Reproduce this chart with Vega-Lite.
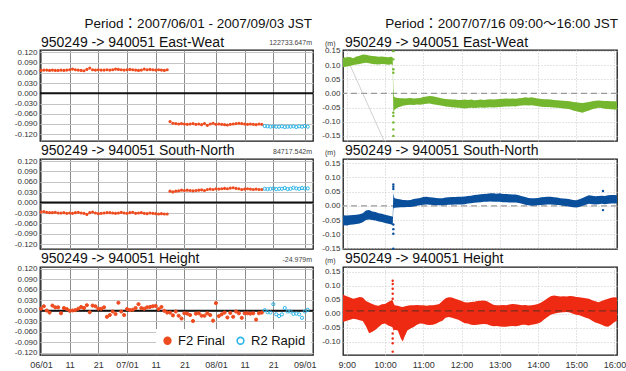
{
"$schema": "https://vega.github.io/schema/vega-lite/v6.json",
"background": "white",
"padding": {"left": 13, "top": 16, "right": 4, "bottom": 0},
"config": {
 "font": "Liberation Sans",
 "view": {"stroke": "#1a1a1a", "strokeWidth": 1.3},
 "axis": {"domain": false, "ticks": false, "labelFont": "Liberation Sans", "labelColor": "#333333", "labelPadding": 3, "gridWidth": 1}
},
"datasets": {
 "daily": [
{"d":"2007-06-01","ew":0.067,"sn":-0.027,"h":0.006,"s":"F2 Final"},
{"d":"2007-06-02","ew":0.068,"sn":-0.026,"h":0.013,"s":"F2 Final"},
{"d":"2007-06-03","ew":0.068,"sn":-0.028,"h":0.001,"s":"F2 Final"},
{"d":"2007-06-04","ew":0.067,"sn":-0.029,"h":-0.005,"s":"F2 Final"},
{"d":"2007-06-05","ew":0.068,"sn":-0.029,"h":0.015,"s":"F2 Final"},
{"d":"2007-06-06","ew":0.067,"sn":-0.028,"h":0.010,"s":"F2 Final"},
{"d":"2007-06-07","ew":0.067,"sn":-0.030,"h":0.010,"s":"F2 Final"},
{"d":"2007-06-08","ew":0.068,"sn":-0.030,"h":-0.007,"s":"F2 Final"},
{"d":"2007-06-09","ew":0.067,"sn":-0.029,"h":0.008,"s":"F2 Final"},
{"d":"2007-06-10","ew":0.068,"sn":-0.031,"h":0.005,"s":"F2 Final"},
{"d":"2007-06-11","ew":0.069,"sn":-0.030,"h":0.000,"s":"F2 Final"},
{"d":"2007-06-12","ew":0.071,"sn":-0.031,"h":0.001,"s":"F2 Final"},
{"d":"2007-06-13","ew":0.069,"sn":-0.029,"h":0.002,"s":"F2 Final"},
{"d":"2007-06-14","ew":0.068,"sn":-0.028,"h":0.006,"s":"F2 Final"},
{"d":"2007-06-15","ew":0.067,"sn":-0.030,"h":0.011,"s":"F2 Final"},
{"d":"2007-06-16","ew":0.066,"sn":-0.031,"h":0.008,"s":"F2 Final"},
{"d":"2007-06-17","ew":0.070,"sn":-0.034,"h":0.016,"s":"F2 Final"},
{"d":"2007-06-18","ew":0.074,"sn":-0.029,"h":-0.004,"s":"F2 Final"},
{"d":"2007-06-19","ew":0.069,"sn":-0.027,"h":0.015,"s":"F2 Final"},
{"d":"2007-06-20","ew":0.068,"sn":-0.030,"h":0.013,"s":"F2 Final"},
{"d":"2007-06-21","ew":0.069,"sn":-0.032,"h":0.006,"s":"F2 Final"},
{"d":"2007-06-22","ew":0.068,"sn":-0.031,"h":0.006,"s":"F2 Final"},
{"d":"2007-06-23","ew":0.068,"sn":-0.030,"h":0.010,"s":"F2 Final"},
{"d":"2007-06-24","ew":0.069,"sn":-0.029,"h":-0.017,"s":"F2 Final"},
{"d":"2007-06-25","ew":0.068,"sn":-0.029,"h":-0.012,"s":"F2 Final"},
{"d":"2007-06-26","ew":0.069,"sn":-0.030,"h":-0.002,"s":"F2 Final"},
{"d":"2007-06-27","ew":0.071,"sn":-0.031,"h":-0.009,"s":"F2 Final"},
{"d":"2007-06-28","ew":0.070,"sn":-0.030,"h":0.023,"s":"F2 Final"},
{"d":"2007-06-29","ew":0.069,"sn":-0.028,"h":-0.002,"s":"F2 Final"},
{"d":"2007-06-30","ew":0.068,"sn":-0.030,"h":-0.012,"s":"F2 Final"},
{"d":"2007-07-01","ew":0.069,"sn":-0.031,"h":0.005,"s":"F2 Final"},
{"d":"2007-07-02","ew":0.070,"sn":-0.029,"h":0.002,"s":"F2 Final"},
{"d":"2007-07-03","ew":0.069,"sn":-0.028,"h":0.003,"s":"F2 Final"},
{"d":"2007-07-04","ew":0.068,"sn":-0.031,"h":0.008,"s":"F2 Final"},
{"d":"2007-07-05","ew":0.067,"sn":-0.030,"h":0.019,"s":"F2 Final"},
{"d":"2007-07-06","ew":0.068,"sn":-0.029,"h":0.008,"s":"F2 Final"},
{"d":"2007-07-07","ew":0.071,"sn":-0.031,"h":0.006,"s":"F2 Final"},
{"d":"2007-07-08","ew":0.069,"sn":-0.032,"h":0.010,"s":"F2 Final"},
{"d":"2007-07-09","ew":0.070,"sn":-0.030,"h":0.011,"s":"F2 Final"},
{"d":"2007-07-10","ew":0.069,"sn":-0.031,"h":0.013,"s":"F2 Final"},
{"d":"2007-07-11","ew":0.068,"sn":-0.032,"h":0.014,"s":"F2 Final"},
{"d":"2007-07-12","ew":0.069,"sn":-0.033,"h":0.005,"s":"F2 Final"},
{"d":"2007-07-13","ew":0.068,"sn":-0.032,"h":0.011,"s":"F2 Final"},
{"d":"2007-07-14","ew":0.067,"sn":-0.033,"h":0.000,"s":"F2 Final"},
{"d":"2007-07-15","ew":0.069,"sn":-0.033,"h":-0.005,"s":"F2 Final"},
{"d":"2007-07-16","ew":-0.083,"sn":0.033,"h":-0.005,"s":"F2 Final"},
{"d":"2007-07-17","ew":-0.088,"sn":0.031,"h":-0.013,"s":"F2 Final"},
{"d":"2007-07-18","ew":-0.089,"sn":0.033,"h":-0.002,"s":"F2 Final"},
{"d":"2007-07-19","ew":-0.090,"sn":0.034,"h":-0.014,"s":"F2 Final"},
{"d":"2007-07-20","ew":-0.089,"sn":0.036,"h":-0.022,"s":"F2 Final"},
{"d":"2007-07-21","ew":-0.090,"sn":0.035,"h":-0.007,"s":"F2 Final"},
{"d":"2007-07-22","ew":-0.091,"sn":0.036,"h":-0.008,"s":"F2 Final"},
{"d":"2007-07-23","ew":-0.090,"sn":0.035,"h":-0.012,"s":"F2 Final"},
{"d":"2007-07-24","ew":-0.089,"sn":0.034,"h":-0.029,"s":"F2 Final"},
{"d":"2007-07-25","ew":-0.091,"sn":0.035,"h":-0.008,"s":"F2 Final"},
{"d":"2007-07-26","ew":-0.090,"sn":0.036,"h":-0.007,"s":"F2 Final"},
{"d":"2007-07-27","ew":-0.092,"sn":0.037,"h":-0.014,"s":"F2 Final"},
{"d":"2007-07-28","ew":-0.089,"sn":0.035,"h":-0.014,"s":"F2 Final"},
{"d":"2007-07-29","ew":-0.094,"sn":0.038,"h":-0.007,"s":"F2 Final"},
{"d":"2007-07-30","ew":-0.090,"sn":0.039,"h":-0.012,"s":"F2 Final"},
{"d":"2007-07-31","ew":-0.088,"sn":0.038,"h":-0.028,"s":"F2 Final"},
{"d":"2007-08-01","ew":-0.091,"sn":0.040,"h":0.022,"s":"F2 Final"},
{"d":"2007-08-02","ew":-0.090,"sn":0.039,"h":-0.015,"s":"F2 Final"},
{"d":"2007-08-03","ew":-0.091,"sn":0.040,"h":-0.010,"s":"F2 Final"},
{"d":"2007-08-04","ew":-0.092,"sn":0.041,"h":-0.005,"s":"F2 Final"},
{"d":"2007-08-05","ew":-0.093,"sn":0.040,"h":-0.019,"s":"F2 Final"},
{"d":"2007-08-06","ew":-0.091,"sn":0.042,"h":-0.006,"s":"F2 Final"},
{"d":"2007-08-07","ew":-0.090,"sn":0.043,"h":-0.017,"s":"F2 Final"},
{"d":"2007-08-08","ew":-0.089,"sn":0.041,"h":-0.002,"s":"F2 Final"},
{"d":"2007-08-09","ew":-0.088,"sn":0.040,"h":-0.007,"s":"F2 Final"},
{"d":"2007-08-10","ew":-0.089,"sn":0.038,"h":-0.020,"s":"F2 Final"},
{"d":"2007-08-11","ew":-0.090,"sn":0.039,"h":-0.007,"s":"F2 Final"},
{"d":"2007-08-12","ew":-0.091,"sn":0.040,"h":-0.007,"s":"F2 Final"},
{"d":"2007-08-13","ew":-0.090,"sn":0.039,"h":-0.008,"s":"F2 Final"},
{"d":"2007-08-14","ew":-0.091,"sn":0.038,"h":-0.007,"s":"F2 Final"},
{"d":"2007-08-15","ew":-0.092,"sn":0.039,"h":-0.025,"s":"F2 Final"},
{"d":"2007-08-16","ew":-0.090,"sn":0.038,"h":-0.007,"s":"F2 Final"},
{"d":"2007-08-17","ew":-0.091,"sn":0.038,"h":-0.005,"s":"F2 Final"},
{"d":"2007-08-18","ew":-0.096,"sn":0.040,"h":0.002,"s":"R2 Rapid"},
{"d":"2007-08-19","ew":-0.097,"sn":0.039,"h":-0.004,"s":"R2 Rapid"},
{"d":"2007-08-20","ew":-0.098,"sn":0.040,"h":-0.005,"s":"R2 Rapid"},
{"d":"2007-08-21","ew":-0.097,"sn":0.041,"h":0.019,"s":"R2 Rapid"},
{"d":"2007-08-22","ew":-0.098,"sn":0.039,"h":-0.010,"s":"R2 Rapid"},
{"d":"2007-08-23","ew":-0.098,"sn":0.040,"h":-0.015,"s":"R2 Rapid"},
{"d":"2007-08-24","ew":-0.097,"sn":0.040,"h":-0.010,"s":"R2 Rapid"},
{"d":"2007-08-25","ew":-0.099,"sn":0.042,"h":0.008,"s":"R2 Rapid"},
{"d":"2007-08-26","ew":-0.098,"sn":0.039,"h":-0.002,"s":"R2 Rapid"},
{"d":"2007-08-27","ew":-0.098,"sn":0.040,"h":-0.002,"s":"R2 Rapid"},
{"d":"2007-08-28","ew":-0.097,"sn":0.043,"h":-0.009,"s":"R2 Rapid"},
{"d":"2007-08-29","ew":-0.099,"sn":0.041,"h":-0.008,"s":"R2 Rapid"},
{"d":"2007-08-30","ew":-0.097,"sn":0.040,"h":-0.010,"s":"R2 Rapid"},
{"d":"2007-08-31","ew":-0.098,"sn":0.042,"h":-0.020,"s":"R2 Rapid"},
{"d":"2007-09-01","ew":-0.096,"sn":0.041,"h":-0.002,"s":"R2 Rapid"},
{"d":"2007-09-02","ew":-0.098,"sn":0.041,"h":0.003,"s":"R2 Rapid"}
 ],
 "hr": [
{"t":"2007-07-16T08:54Z","ewlo":0.092,"ewhi":0.126,"snlo":-0.068,"snhi":-0.033,"hlo":-0.030,"hhi":0.068},
{"t":"2007-07-16T09:00Z","ewlo":0.095,"ewhi":0.127,"snlo":-0.069,"snhi":-0.034,"hlo":-0.025,"hhi":0.062},
{"t":"2007-07-16T09:05Z","ewlo":0.097,"ewhi":0.128,"snlo":-0.067,"snhi":-0.033,"hlo":-0.022,"hhi":0.058},
{"t":"2007-07-16T09:10Z","ewlo":0.100,"ewhi":0.124,"snlo":-0.066,"snhi":-0.032,"hlo":-0.018,"hhi":0.053},
{"t":"2007-07-16T09:15Z","ewlo":0.102,"ewhi":0.130,"snlo":-0.064,"snhi":-0.031,"hlo":-0.020,"hhi":0.056},
{"t":"2007-07-16T09:20Z","ewlo":0.104,"ewhi":0.133,"snlo":-0.062,"snhi":-0.030,"hlo":-0.024,"hhi":0.060},
{"t":"2007-07-16T09:25Z","ewlo":0.106,"ewhi":0.137,"snlo":-0.058,"snhi":-0.026,"hlo":-0.026,"hhi":0.058},
{"t":"2007-07-16T09:30Z","ewlo":0.108,"ewhi":0.136,"snlo":-0.050,"snhi":-0.016,"hlo":-0.045,"hhi":0.045},
{"t":"2007-07-16T09:35Z","ewlo":0.106,"ewhi":0.134,"snlo":-0.048,"snhi":-0.015,"hlo":-0.070,"hhi":0.040},
{"t":"2007-07-16T09:40Z","ewlo":0.104,"ewhi":0.132,"snlo":-0.050,"snhi":-0.020,"hlo":-0.065,"hhi":0.035},
{"t":"2007-07-16T09:45Z","ewlo":0.103,"ewhi":0.131,"snlo":-0.052,"snhi":-0.022,"hlo":-0.058,"hhi":0.030},
{"t":"2007-07-16T09:50Z","ewlo":0.102,"ewhi":0.129,"snlo":-0.055,"snhi":-0.026,"hlo":-0.048,"hhi":0.028},
{"t":"2007-07-16T09:55Z","ewlo":0.104,"ewhi":0.130,"snlo":-0.057,"snhi":-0.028,"hlo":-0.038,"hhi":0.034},
{"t":"2007-07-16T10:00Z","ewlo":0.103,"ewhi":0.128,"snlo":-0.060,"snhi":-0.031,"hlo":-0.035,"hhi":0.035},
{"t":"2007-07-16T10:05Z","ewlo":0.101,"ewhi":0.127,"snlo":-0.063,"snhi":-0.034,"hlo":-0.042,"hhi":0.042},
{"t":"2007-07-16T10:10Z","ewlo":0.103,"ewhi":0.129,"snlo":-0.066,"snhi":-0.037,"hlo":-0.047,"hhi":0.048},
{"t":"2007-07-16T10:12Z","ewlo":0.100,"ewhi":0.127,"snlo":-0.068,"snhi":-0.038,"hlo":-0.050,"hhi":0.047},
{"t":"2007-07-16T10:13Z","ewlo":-0.065,"ewhi":0.020,"snlo":-0.010,"snhi":0.045,"hlo":-0.060,"hhi":0.040},
{"t":"2007-07-16T10:14Z","ewlo":-0.062,"ewhi":-0.010,"snlo":-0.008,"snhi":0.032,"hlo":-0.060,"hhi":0.035},
{"t":"2007-07-16T10:15Z","ewlo":-0.058,"ewhi":-0.014,"snlo":-0.007,"snhi":0.027,"hlo":-0.058,"hhi":0.030},
{"t":"2007-07-16T10:20Z","ewlo":-0.050,"ewhi":-0.016,"snlo":-0.006,"snhi":0.024,"hlo":-0.060,"hhi":0.028},
{"t":"2007-07-16T10:25Z","ewlo":-0.046,"ewhi":-0.017,"snlo":-0.005,"snhi":0.022,"hlo":-0.090,"hhi":0.025},
{"t":"2007-07-16T10:28Z","ewlo":-0.044,"ewhi":-0.017,"snlo":-0.005,"snhi":0.021,"hlo":-0.100,"hhi":0.024},
{"t":"2007-07-16T10:30Z","ewlo":-0.043,"ewhi":-0.018,"snlo":-0.005,"snhi":0.021,"hlo":-0.085,"hhi":0.026},
{"t":"2007-07-16T10:35Z","ewlo":-0.041,"ewhi":-0.017,"snlo":-0.004,"snhi":0.020,"hlo":-0.060,"hhi":0.028},
{"t":"2007-07-16T10:40Z","ewlo":-0.040,"ewhi":-0.016,"snlo":-0.004,"snhi":0.021,"hlo":-0.053,"hhi":0.030},
{"t":"2007-07-16T10:45Z","ewlo":-0.041,"ewhi":-0.018,"snlo":-0.002,"snhi":0.024,"hlo":-0.048,"hhi":0.030},
{"t":"2007-07-16T10:50Z","ewlo":-0.039,"ewhi":-0.017,"snlo":0.000,"snhi":0.026,"hlo":-0.040,"hhi":0.031},
{"t":"2007-07-16T10:55Z","ewlo":-0.040,"ewhi":-0.016,"snlo":0.002,"snhi":0.028,"hlo":-0.035,"hhi":0.030},
{"t":"2007-07-16T11:00Z","ewlo":-0.038,"ewhi":-0.013,"snlo":0.004,"snhi":0.031,"hlo":-0.036,"hhi":0.030},
{"t":"2007-07-16T11:05Z","ewlo":-0.037,"ewhi":-0.011,"snlo":0.005,"snhi":0.032,"hlo":-0.040,"hhi":0.028},
{"t":"2007-07-16T11:10Z","ewlo":-0.036,"ewhi":-0.009,"snlo":0.004,"snhi":0.030,"hlo":-0.041,"hhi":0.030},
{"t":"2007-07-16T11:15Z","ewlo":-0.038,"ewhi":-0.010,"snlo":0.003,"snhi":0.029,"hlo":-0.040,"hhi":0.030},
{"t":"2007-07-16T11:20Z","ewlo":-0.040,"ewhi":-0.013,"snlo":0.002,"snhi":0.028,"hlo":-0.036,"hhi":0.032},
{"t":"2007-07-16T11:25Z","ewlo":-0.042,"ewhi":-0.015,"snlo":0.002,"snhi":0.027,"hlo":-0.030,"hhi":0.035},
{"t":"2007-07-16T11:30Z","ewlo":-0.044,"ewhi":-0.018,"snlo":0.002,"snhi":0.027,"hlo":-0.025,"hhi":0.045},
{"t":"2007-07-16T11:35Z","ewlo":-0.046,"ewhi":-0.020,"snlo":0.003,"snhi":0.029,"hlo":-0.015,"hhi":0.055},
{"t":"2007-07-16T11:40Z","ewlo":-0.047,"ewhi":-0.021,"snlo":0.004,"snhi":0.030,"hlo":-0.012,"hhi":0.059},
{"t":"2007-07-16T11:45Z","ewlo":-0.049,"ewhi":-0.022,"snlo":0.004,"snhi":0.031,"hlo":-0.015,"hhi":0.058},
{"t":"2007-07-16T11:50Z","ewlo":-0.050,"ewhi":-0.022,"snlo":0.005,"snhi":0.031,"hlo":-0.018,"hhi":0.053},
{"t":"2007-07-16T11:55Z","ewlo":-0.051,"ewhi":-0.023,"snlo":0.005,"snhi":0.032,"hlo":-0.022,"hhi":0.050},
{"t":"2007-07-16T12:00Z","ewlo":-0.052,"ewhi":-0.023,"snlo":0.005,"snhi":0.032,"hlo":-0.028,"hhi":0.045},
{"t":"2007-07-16T12:05Z","ewlo":-0.053,"ewhi":-0.022,"snlo":0.006,"snhi":0.033,"hlo":-0.034,"hhi":0.041},
{"t":"2007-07-16T12:10Z","ewlo":-0.052,"ewhi":-0.023,"snlo":0.008,"snhi":0.035,"hlo":-0.035,"hhi":0.040},
{"t":"2007-07-16T12:15Z","ewlo":-0.051,"ewhi":-0.022,"snlo":0.009,"snhi":0.036,"hlo":-0.040,"hhi":0.042},
{"t":"2007-07-16T12:20Z","ewlo":-0.052,"ewhi":-0.024,"snlo":0.011,"snhi":0.038,"hlo":-0.041,"hhi":0.043},
{"t":"2007-07-16T12:25Z","ewlo":-0.051,"ewhi":-0.023,"snlo":0.012,"snhi":0.039,"hlo":-0.040,"hhi":0.045},
{"t":"2007-07-16T12:30Z","ewlo":-0.050,"ewhi":-0.022,"snlo":0.013,"snhi":0.041,"hlo":-0.038,"hhi":0.046},
{"t":"2007-07-16T12:35Z","ewlo":-0.051,"ewhi":-0.023,"snlo":0.014,"snhi":0.042,"hlo":-0.037,"hhi":0.047},
{"t":"2007-07-16T12:40Z","ewlo":-0.050,"ewhi":-0.022,"snlo":0.014,"snhi":0.043,"hlo":-0.038,"hhi":0.044},
{"t":"2007-07-16T12:45Z","ewlo":-0.049,"ewhi":-0.021,"snlo":0.015,"snhi":0.044,"hlo":-0.042,"hhi":0.038},
{"t":"2007-07-16T12:50Z","ewlo":-0.050,"ewhi":-0.022,"snlo":0.014,"snhi":0.044,"hlo":-0.045,"hhi":0.032},
{"t":"2007-07-16T12:55Z","ewlo":-0.049,"ewhi":-0.021,"snlo":0.014,"snhi":0.043,"hlo":-0.044,"hhi":0.030},
{"t":"2007-07-16T13:00Z","ewlo":-0.048,"ewhi":-0.020,"snlo":0.014,"snhi":0.044,"hlo":-0.046,"hhi":0.030},
{"t":"2007-07-16T13:05Z","ewlo":-0.047,"ewhi":-0.019,"snlo":0.013,"snhi":0.042,"hlo":-0.047,"hhi":0.031},
{"t":"2007-07-16T13:10Z","ewlo":-0.046,"ewhi":-0.018,"snlo":0.013,"snhi":0.042,"hlo":-0.047,"hhi":0.030},
{"t":"2007-07-16T13:15Z","ewlo":-0.046,"ewhi":-0.019,"snlo":0.012,"snhi":0.041,"hlo":-0.045,"hhi":0.033},
{"t":"2007-07-16T13:20Z","ewlo":-0.045,"ewhi":-0.018,"snlo":0.012,"snhi":0.040,"hlo":-0.044,"hhi":0.035},
{"t":"2007-07-16T13:25Z","ewlo":-0.046,"ewhi":-0.019,"snlo":0.012,"snhi":0.040,"hlo":-0.045,"hhi":0.034},
{"t":"2007-07-16T13:30Z","ewlo":-0.044,"ewhi":-0.017,"snlo":0.010,"snhi":0.037,"hlo":-0.043,"hhi":0.032},
{"t":"2007-07-16T13:35Z","ewlo":-0.043,"ewhi":-0.016,"snlo":0.007,"snhi":0.034,"hlo":-0.040,"hhi":0.030},
{"t":"2007-07-16T13:40Z","ewlo":-0.042,"ewhi":-0.014,"snlo":0.004,"snhi":0.031,"hlo":-0.040,"hhi":0.031},
{"t":"2007-07-16T13:45Z","ewlo":-0.043,"ewhi":-0.015,"snlo":0.002,"snhi":0.028,"hlo":-0.042,"hhi":0.029},
{"t":"2007-07-16T13:50Z","ewlo":-0.042,"ewhi":-0.014,"snlo":0.000,"snhi":0.027,"hlo":-0.040,"hhi":0.030},
{"t":"2007-07-16T13:55Z","ewlo":-0.044,"ewhi":-0.016,"snlo":0.001,"snhi":0.027,"hlo":-0.038,"hhi":0.032},
{"t":"2007-07-16T14:00Z","ewlo":-0.045,"ewhi":-0.018,"snlo":0.002,"snhi":0.028,"hlo":-0.035,"hhi":0.035},
{"t":"2007-07-16T14:05Z","ewlo":-0.047,"ewhi":-0.020,"snlo":0.003,"snhi":0.030,"hlo":-0.030,"hhi":0.040},
{"t":"2007-07-16T14:10Z","ewlo":-0.048,"ewhi":-0.021,"snlo":0.004,"snhi":0.031,"hlo":-0.020,"hhi":0.047},
{"t":"2007-07-16T14:15Z","ewlo":-0.048,"ewhi":-0.021,"snlo":0.005,"snhi":0.032,"hlo":-0.012,"hhi":0.055},
{"t":"2007-07-16T14:20Z","ewlo":-0.049,"ewhi":-0.022,"snlo":0.005,"snhi":0.032,"hlo":-0.004,"hhi":0.062},
{"t":"2007-07-16T14:25Z","ewlo":-0.050,"ewhi":-0.023,"snlo":0.004,"snhi":0.030,"hlo":0.000,"hhi":0.065},
{"t":"2007-07-16T14:30Z","ewlo":-0.051,"ewhi":-0.024,"snlo":0.003,"snhi":0.029,"hlo":0.002,"hhi":0.063},
{"t":"2007-07-16T14:35Z","ewlo":-0.052,"ewhi":-0.025,"snlo":0.002,"snhi":0.027,"hlo":0.004,"hhi":0.061},
{"t":"2007-07-16T14:40Z","ewlo":-0.053,"ewhi":-0.026,"snlo":0.000,"snhi":0.026,"hlo":0.005,"hhi":0.062},
{"t":"2007-07-16T14:45Z","ewlo":-0.054,"ewhi":-0.027,"snlo":-0.001,"snhi":0.025,"hlo":0.006,"hhi":0.061},
{"t":"2007-07-16T14:50Z","ewlo":-0.056,"ewhi":-0.028,"snlo":-0.003,"snhi":0.023,"hlo":0.004,"hhi":0.063},
{"t":"2007-07-16T14:55Z","ewlo":-0.060,"ewhi":-0.030,"snlo":-0.005,"snhi":0.021,"hlo":0.000,"hhi":0.062},
{"t":"2007-07-16T15:00Z","ewlo":-0.063,"ewhi":-0.031,"snlo":-0.006,"snhi":0.020,"hlo":-0.004,"hhi":0.060},
{"t":"2007-07-16T15:05Z","ewlo":-0.066,"ewhi":-0.033,"snlo":-0.004,"snhi":0.023,"hlo":-0.006,"hhi":0.059},
{"t":"2007-07-16T15:10Z","ewlo":-0.068,"ewhi":-0.034,"snlo":0.000,"snhi":0.028,"hlo":-0.010,"hhi":0.057},
{"t":"2007-07-16T15:15Z","ewlo":-0.064,"ewhi":-0.032,"snlo":0.004,"snhi":0.033,"hlo":-0.015,"hhi":0.055},
{"t":"2007-07-16T15:20Z","ewlo":-0.060,"ewhi":-0.030,"snlo":0.007,"snhi":0.037,"hlo":-0.018,"hhi":0.053},
{"t":"2007-07-16T15:25Z","ewlo":-0.056,"ewhi":-0.028,"snlo":0.006,"snhi":0.036,"hlo":-0.025,"hhi":0.048},
{"t":"2007-07-16T15:30Z","ewlo":-0.053,"ewhi":-0.026,"snlo":0.005,"snhi":0.034,"hlo":-0.032,"hhi":0.044},
{"t":"2007-07-16T15:35Z","ewlo":-0.051,"ewhi":-0.025,"snlo":0.006,"snhi":0.035,"hlo":-0.035,"hhi":0.041},
{"t":"2007-07-16T15:40Z","ewlo":-0.052,"ewhi":-0.026,"snlo":0.007,"snhi":0.036,"hlo":-0.040,"hhi":0.045},
{"t":"2007-07-16T15:45Z","ewlo":-0.054,"ewhi":-0.027,"snlo":0.006,"snhi":0.035,"hlo":-0.045,"hhi":0.050},
{"t":"2007-07-16T15:50Z","ewlo":-0.055,"ewhi":-0.027,"snlo":0.007,"snhi":0.037,"hlo":-0.047,"hhi":0.053},
{"t":"2007-07-16T15:55Z","ewlo":-0.056,"ewhi":-0.028,"snlo":0.008,"snhi":0.038,"hlo":-0.040,"hhi":0.057},
{"t":"2007-07-16T16:00Z","ewlo":-0.057,"ewhi":-0.028,"snlo":0.008,"snhi":0.038,"hlo":-0.030,"hhi":0.059},
{"t":"2007-07-16T16:05Z","ewlo":-0.058,"ewhi":-0.029,"snlo":0.008,"snhi":0.037,"hlo":-0.024,"hhi":0.058}
 ],
 "sp": [
{"t":"2007-07-16T10:13Z","c":"ew","v":0.149},{"t":"2007-07-16T10:13Z","c":"ew","v":0.120},{"t":"2007-07-16T10:13Z","c":"ew","v":0.085},{"t":"2007-07-16T10:13Z","c":"ew","v":0.073},
{"t":"2007-07-16T10:13Z","c":"ew","v":-0.068},{"t":"2007-07-16T10:13Z","c":"ew","v":-0.080},{"t":"2007-07-16T10:13Z","c":"ew","v":-0.103},{"t":"2007-07-16T10:13Z","c":"ew","v":-0.127},{"t":"2007-07-16T10:13Z","c":"ew","v":-0.150},
{"t":"2007-07-16T10:13Z","c":"sn","v":0.075},{"t":"2007-07-16T10:13Z","c":"sn","v":0.067},{"t":"2007-07-16T10:13Z","c":"sn","v":0.059},{"t":"2007-07-16T10:13Z","c":"sn","v":-0.066},
{"t":"2007-07-16T10:13Z","c":"sn","v":-0.082},{"t":"2007-07-16T10:13Z","c":"sn","v":-0.098},{"t":"2007-07-16T10:13Z","c":"sn","v":-0.151},{"t":"2007-07-16T15:42Z","c":"sn","v":0.052},{"t":"2007-07-16T15:42Z","c":"sn","v":-0.015},
{"t":"2007-07-16T10:12Z","c":"h","v":0.118},{"t":"2007-07-16T10:12Z","c":"h","v":0.106},{"t":"2007-07-16T10:12Z","c":"h","v":0.089},{"t":"2007-07-16T10:12Z","c":"h","v":0.071},{"t":"2007-07-16T10:12Z","c":"h","v":0.053},
{"t":"2007-07-16T10:12Z","c":"h","v":-0.071},{"t":"2007-07-16T10:12Z","c":"h","v":-0.089},{"t":"2007-07-16T10:12Z","c":"h","v":-0.106},{"t":"2007-07-16T10:12Z","c":"h","v":-0.136}
 ],
 "streak": [{"t":"2007-07-16T09:05Z","v":0.100},{"t":"2007-07-16T10:00Z","v":-0.175}]
},
"spacing": 4,
"resolve": {"scale": {"fill": "independent", "stroke": "independent"}, "legend": {"fill": "independent", "stroke": "independent"}},
"hconcat": [
 {
  "spacing": 18,
  "bounds": "flush",
  "resolve": {"scale": {"fill": "independent", "stroke": "independent"}, "legend": {"fill": "independent", "stroke": "independent"}},
  "vconcat": [
   {
    "width": 273, "height": 91,
    "layer": [
     {"data": {"name": "daily"}, "transform": [{"filter": "datum.s == 'F2 Final'"}],
      "mark": {"type": "point", "shape": "circle", "size": 10, "filled": true, "strokeWidth": 1, "color": "#ee4b1f", "opacity": 1},
      "encoding": {
       "x": {"field": "d", "type": "temporal", "scale": {"type": "utc", "domain": [{"year":2007,"month":5,"date":31,"hours":16,"utc":true},{"year":2007,"month":9,"date":3,"hours":20,"utc":true}]},
             "axis": {"title": null, "labels": false, "grid": true, "gridColor": "#8c8c8c", "tickCount": 50, "values": [{"year":2007,"month":6,"date":1,"utc":true},{"year":2007,"month":6,"date":11,"utc":true},{"year":2007,"month":6,"date":21,"utc":true},{"year":2007,"month":7,"date":1,"utc":true},{"year":2007,"month":7,"date":11,"utc":true},{"year":2007,"month":7,"date":21,"utc":true},{"year":2007,"month":8,"date":1,"utc":true},{"year":2007,"month":8,"date":11,"utc":true},{"year":2007,"month":8,"date":21,"utc":true},{"year":2007,"month":9,"date":1,"utc":true}]}},
       "y": {"field": "ew", "type": "quantitative", "scale": {"domain": [-0.14, 0.127], "nice": false, "zero": false},
             "axis": {"title": null, "tickCount": 50, "values": [-0.12,-0.09,-0.06,-0.03,0,0.03,0.06,0.09,0.12], "labelExpr": "replace(format(datum.value, '.3f'), '\u2212', '-')", "grid": true, "gridColor": "#c4c4c4", "labelFontSize": 8, "labelOverlap": false}}
      }},
     {"data": {"name": "daily"}, "transform": [{"filter": "datum.s == 'R2 Rapid'"}],
      "mark": {"type": "point", "shape": "circle", "size": 10, "filled": false, "strokeWidth": 1, "color": "#2cb5e8", "opacity": 1},
      "encoding": {
       "x": {"field": "d", "type": "temporal", "scale": {"type": "utc", "domain": [{"year":2007,"month":5,"date":31,"hours":16,"utc":true},{"year":2007,"month":9,"date":3,"hours":20,"utc":true}]}},
       "y": {"field": "ew", "type": "quantitative", "scale": {"domain": [-0.14, 0.127], "nice": false, "zero": false}}
      }},
     {"data": {"values": [{}]}, "mark": {"type": "rule", "color": "#111111", "strokeWidth": 2},
      "encoding": {"y": {"datum": 0, "type": "quantitative", "scale": {"domain": [-0.14, 0.127], "nice": false, "zero": false}}}},
     {"data": {"values": [{}]}, "mark": {"type": "text", "text": "950249 -> 940051 East-Weat", "align": "left", "baseline": "alphabetic", "dy": -3, "dx": 1, "fontSize": 14, "color": "#111111"},
      "encoding": {
       "x": {"datum": {"year":2007,"month":5,"date":31,"hours":16,"utc":true}, "type": "temporal", "scale": {"type": "utc", "domain": [{"year":2007,"month":5,"date":31,"hours":16,"utc":true},{"year":2007,"month":9,"date":3,"hours":20,"utc":true}]}},
       "y": {"datum": 0.127, "type": "quantitative", "scale": {"domain": [-0.14, 0.127], "nice": false, "zero": false}}
      }},
     {"data": {"values": [{}]}, "mark": {"type": "text", "text": "Period：2007/06/01 - 2007/09/03 JST", "font": "Liberation Sans, Noto Sans CJK JP", "align": "right", "baseline": "alphabetic", "dy": -22, "dx": -1, "fontSize": 13.5, "color": "#111111"},
      "encoding": {
       "x": {"datum": {"year":2007,"month":9,"date":3,"hours":20,"utc":true}, "type": "temporal", "scale": {"type": "utc", "domain": [{"year":2007,"month":5,"date":31,"hours":16,"utc":true},{"year":2007,"month":9,"date":3,"hours":20,"utc":true}]}},
       "y": {"datum": 0.127, "type": "quantitative", "scale": {"domain": [-0.14, 0.127], "nice": false, "zero": false}}
      }},
     {"data": {"values": [{}]}, "mark": {"type": "text", "text": "122733.647m", "align": "right", "baseline": "alphabetic", "dy": -5, "dx": -1, "fontSize": 7, "color": "#444444"},
      "encoding": {
       "x": {"datum": {"year":2007,"month":9,"date":3,"hours":20,"utc":true}, "type": "temporal", "scale": {"type": "utc", "domain": [{"year":2007,"month":5,"date":31,"hours":16,"utc":true},{"year":2007,"month":9,"date":3,"hours":20,"utc":true}]}},
       "y": {"datum": 0.127, "type": "quantitative", "scale": {"domain": [-0.14, 0.127], "nice": false, "zero": false}}
      }}
    ]
   },
   {
    "width": 273, "height": 90,
    "layer": [
     {"data": {"name": "daily"}, "transform": [{"filter": "datum.s == 'F2 Final'"}],
      "mark": {"type": "point", "shape": "circle", "size": 10, "filled": true, "strokeWidth": 1, "color": "#ee4b1f", "opacity": 1},
      "encoding": {
       "x": {"field": "d", "type": "temporal", "scale": {"type": "utc", "domain": [{"year":2007,"month":5,"date":31,"hours":16,"utc":true},{"year":2007,"month":9,"date":3,"hours":20,"utc":true}]},
             "axis": {"title": null, "labels": false, "grid": true, "gridColor": "#8c8c8c", "tickCount": 50, "values": [{"year":2007,"month":6,"date":1,"utc":true},{"year":2007,"month":6,"date":11,"utc":true},{"year":2007,"month":6,"date":21,"utc":true},{"year":2007,"month":7,"date":1,"utc":true},{"year":2007,"month":7,"date":11,"utc":true},{"year":2007,"month":7,"date":21,"utc":true},{"year":2007,"month":8,"date":1,"utc":true},{"year":2007,"month":8,"date":11,"utc":true},{"year":2007,"month":8,"date":21,"utc":true},{"year":2007,"month":9,"date":1,"utc":true}]}},
       "y": {"field": "sn", "type": "quantitative", "scale": {"domain": [-0.134, 0.126], "nice": false, "zero": false},
             "axis": {"title": null, "tickCount": 50, "values": [-0.12,-0.09,-0.06,-0.03,0,0.03,0.06,0.09,0.12], "labelExpr": "replace(format(datum.value, '.3f'), '\u2212', '-')", "grid": true, "gridColor": "#c4c4c4", "labelFontSize": 8, "labelOverlap": false}}
      }},
     {"data": {"name": "daily"}, "transform": [{"filter": "datum.s == 'R2 Rapid'"}],
      "mark": {"type": "point", "shape": "circle", "size": 10, "filled": false, "strokeWidth": 1, "color": "#2cb5e8", "opacity": 1},
      "encoding": {
       "x": {"field": "d", "type": "temporal", "scale": {"type": "utc", "domain": [{"year":2007,"month":5,"date":31,"hours":16,"utc":true},{"year":2007,"month":9,"date":3,"hours":20,"utc":true}]}},
       "y": {"field": "sn", "type": "quantitative", "scale": {"domain": [-0.134, 0.126], "nice": false, "zero": false}}
      }},
     {"data": {"values": [{}]}, "mark": {"type": "rule", "color": "#111111", "strokeWidth": 2},
      "encoding": {"y": {"datum": 0, "type": "quantitative", "scale": {"domain": [-0.134, 0.126], "nice": false, "zero": false}}}},
     {"data": {"values": [{}]}, "mark": {"type": "text", "text": "950249 -> 940051 South-North", "align": "left", "baseline": "alphabetic", "dy": -4, "dx": 1, "fontSize": 14, "color": "#111111"},
      "encoding": {
       "x": {"datum": {"year":2007,"month":5,"date":31,"hours":16,"utc":true}, "type": "temporal", "scale": {"type": "utc", "domain": [{"year":2007,"month":5,"date":31,"hours":16,"utc":true},{"year":2007,"month":9,"date":3,"hours":20,"utc":true}]}},
       "y": {"datum": 0.126, "type": "quantitative", "scale": {"domain": [-0.134, 0.126], "nice": false, "zero": false}}
      }},
     {"data": {"values": [{}]}, "mark": {"type": "text", "text": "84717.542m", "align": "right", "baseline": "alphabetic", "dy": -5, "dx": -1, "fontSize": 7, "color": "#444444"},
      "encoding": {
       "x": {"datum": {"year":2007,"month":9,"date":3,"hours":20,"utc":true}, "type": "temporal", "scale": {"type": "utc", "domain": [{"year":2007,"month":5,"date":31,"hours":16,"utc":true},{"year":2007,"month":9,"date":3,"hours":20,"utc":true}]}},
       "y": {"datum": 0.126, "type": "quantitative", "scale": {"domain": [-0.134, 0.126], "nice": false, "zero": false}}
      }}
    ]
   },
   {
    "width": 273, "height": 88,
    "layer": [
     {"data": {"values": [{}]}, "mark": {"type": "rule", "color": "#111111", "strokeWidth": 2},
      "encoding": {"y": {"datum": 0, "type": "quantitative", "scale": {"domain": [-0.126, 0.125], "nice": false, "zero": false}}}},
     {"data": {"name": "daily"},
      "mark": {"type": "point", "shape": "circle", "size": 10, "filled": true, "strokeWidth": 1, "opacity": 1},
      "encoding": {
       "x": {"field": "d", "type": "temporal", "scale": {"type": "utc", "domain": [{"year":2007,"month":5,"date":31,"hours":16,"utc":true},{"year":2007,"month":9,"date":3,"hours":20,"utc":true}]},
             "axis": {"title": null, "grid": true, "gridColor": "#8c8c8c", "tickCount": 50, "labelFontSize": 9, "labelPadding": 5, "labelFlush": false, "labelOverlap": false, "labelExpr": "utcdate(datum.value) == 1 ? utcFormat(datum.value, '%m/%d') : utcFormat(datum.value, '%d')", "values": [{"year":2007,"month":6,"date":1,"utc":true},{"year":2007,"month":6,"date":11,"utc":true},{"year":2007,"month":6,"date":21,"utc":true},{"year":2007,"month":7,"date":1,"utc":true},{"year":2007,"month":7,"date":11,"utc":true},{"year":2007,"month":7,"date":21,"utc":true},{"year":2007,"month":8,"date":1,"utc":true},{"year":2007,"month":8,"date":11,"utc":true},{"year":2007,"month":8,"date":21,"utc":true},{"year":2007,"month":9,"date":1,"utc":true}]}},
       "y": {"field": "h", "type": "quantitative", "scale": {"domain": [-0.126, 0.125], "nice": false, "zero": false},
             "axis": {"title": null, "tickCount": 50, "values": [-0.12,-0.09,-0.06,-0.03,0,0.03,0.06,0.09,0.12], "labelExpr": "replace(format(datum.value, '.3f'), '\u2212', '-')", "grid": true, "gridColor": "#c4c4c4", "labelFontSize": 8, "labelOverlap": false}},
       "fill": {"field": "s", "type": "nominal", "scale": {"domain": ["F2 Final", "R2 Rapid"], "range": ["#ee4b1f", "transparent"]},
                "legend": {"orient": "bottom-right", "offset": 2, "direction": "horizontal", "title": null, "fillColor": "white", "padding": 5, "labelFontSize": 13, "labelFont": "Liberation Sans", "labelColor": "#111111", "symbolSize": 45, "symbolStrokeWidth": 1.6, "columnPadding": 8, "labelOffset": 4, "symbolType": "circle"}},
       "stroke": {"field": "s", "type": "nominal", "scale": {"domain": ["F2 Final", "R2 Rapid"], "range": ["#ee4b1f", "#2cb5e8"]},
                "legend": {"orient": "bottom-right", "offset": 2, "direction": "horizontal", "title": null, "fillColor": "white", "padding": 5, "labelFontSize": 13, "labelFont": "Liberation Sans", "labelColor": "#111111", "symbolSize": 45, "symbolStrokeWidth": 1.6, "columnPadding": 8, "labelOffset": 4, "symbolType": "circle"}}
      }},
     {"data": {"values": [{}]}, "mark": {"type": "text", "text": "950249 -> 940051 Height", "align": "left", "baseline": "alphabetic", "dy": -4, "dx": 1, "fontSize": 14, "color": "#111111"},
      "encoding": {
       "x": {"datum": {"year":2007,"month":5,"date":31,"hours":16,"utc":true}, "type": "temporal", "scale": {"type": "utc", "domain": [{"year":2007,"month":5,"date":31,"hours":16,"utc":true},{"year":2007,"month":9,"date":3,"hours":20,"utc":true}]}},
       "y": {"datum": 0.125, "type": "quantitative", "scale": {"domain": [-0.126, 0.125], "nice": false, "zero": false}}
      }},
     {"data": {"values": [{}]}, "mark": {"type": "text", "text": "-24.979m", "align": "right", "baseline": "alphabetic", "dy": -5, "dx": -1, "fontSize": 7, "color": "#444444"},
      "encoding": {
       "x": {"datum": {"year":2007,"month":9,"date":3,"hours":20,"utc":true}, "type": "temporal", "scale": {"type": "utc", "domain": [{"year":2007,"month":5,"date":31,"hours":16,"utc":true},{"year":2007,"month":9,"date":3,"hours":20,"utc":true}]}},
       "y": {"datum": 0.125, "type": "quantitative", "scale": {"domain": [-0.126, 0.125], "nice": false, "zero": false}}
      }}
    ]
   }
  ]
 },
 {
  "spacing": 18,
  "bounds": "flush",
  "vconcat": [
   {
    "width": 274, "height": 91,
    "layer": [
     {"data": {"values": [{}]}, "mark": {"type": "rule", "color": "#9a9a9a", "strokeDash": [6, 4], "strokeWidth": 1.3},
      "encoding": {"y": {"datum": 0, "type": "quantitative", "scale": {"domain": [-0.168, 0.153], "nice": false, "zero": false}}}},
     {"data": {"name": "streak"}, "mark": {"type": "line", "color": "#bbbbbb", "strokeWidth": 0.7, "clip": true},
      "encoding": {
       "x": {"field": "t", "type": "temporal", "scale": {"type": "utc", "domain": [{"year":2007,"month":7,"date":16,"hours":8,"minutes":54,"utc":true},{"year":2007,"month":7,"date":16,"hours":16,"minutes":4,"utc":true}]}},
       "y": {"field": "v", "type": "quantitative", "scale": {"domain": [-0.168, 0.153], "nice": false, "zero": false}}
      }},
     {"data": {"name": "hr"}, "mark": {"type": "area", "color": "#74b72e", "opacity": 1, "clip": true},
      "encoding": {
       "x": {"field": "t", "type": "temporal", "scale": {"type": "utc", "domain": [{"year":2007,"month":7,"date":16,"hours":8,"minutes":54,"utc":true},{"year":2007,"month":7,"date":16,"hours":16,"minutes":4,"utc":true}]},
             "axis": {"title": null, "labels": false, "grid": true, "gridColor": "#c8c8c8", "gridDash": [1, 2], "tickCount": 50, "values": [{"year":2007,"month":7,"date":16,"hours":9,"utc":true},{"year":2007,"month":7,"date":16,"hours":10,"utc":true},{"year":2007,"month":7,"date":16,"hours":11,"utc":true},{"year":2007,"month":7,"date":16,"hours":12,"utc":true},{"year":2007,"month":7,"date":16,"hours":13,"utc":true},{"year":2007,"month":7,"date":16,"hours":14,"utc":true},{"year":2007,"month":7,"date":16,"hours":15,"utc":true},{"year":2007,"month":7,"date":16,"hours":16,"utc":true}]}},
       "y": {"field": "ewlo", "type": "quantitative", "scale": {"domain": [-0.168, 0.153], "nice": false, "zero": false},
             "axis": {"title": "(m)", "tickCount": 50, "values": [-0.15,-0.1,-0.05,0,0.05,0.1,0.15], "labelExpr": "replace(format(datum.value, '.2f'), '\u2212', '-')", "grid": true, "gridColor": "#c8c8c8", "gridDash": [1, 2], "labelFontSize": 8, "labelOverlap": false, "titleAngle": 0, "titleAlign": "right", "titleBaseline": "alphabetic", "titleFontSize": 7, "titleFontWeight": "normal", "titleColor": "#333333", "titleX": -8, "titleY": -5}},
       "y2": {"field": "ewhi"}
      }},
     {"data": {"name": "sp"}, "transform": [{"filter": "datum.c == 'ew'"}], "mark": {"type": "circle", "size": 6, "color": "#74b72e", "opacity": 1},
      "encoding": {
       "x": {"field": "t", "type": "temporal", "scale": {"type": "utc", "domain": [{"year":2007,"month":7,"date":16,"hours":8,"minutes":54,"utc":true},{"year":2007,"month":7,"date":16,"hours":16,"minutes":4,"utc":true}]}},
       "y": {"field": "v", "type": "quantitative", "scale": {"domain": [-0.168, 0.153], "nice": false, "zero": false}}
      }},
     {"data": {"values": [{}]}, "mark": {"type": "text", "text": "950249 -> 940051 East-Weat", "align": "left", "baseline": "alphabetic", "dy": -3, "dx": 2, "fontSize": 14, "color": "#111111"},
      "encoding": {
       "x": {"datum": {"year":2007,"month":7,"date":16,"hours":8,"minutes":54,"utc":true}, "type": "temporal", "scale": {"type": "utc", "domain": [{"year":2007,"month":7,"date":16,"hours":8,"minutes":54,"utc":true},{"year":2007,"month":7,"date":16,"hours":16,"minutes":4,"utc":true}]}},
       "y": {"datum": 0.153, "type": "quantitative", "scale": {"domain": [-0.168, 0.153], "nice": false, "zero": false}}
      }},
     {"data": {"values": [{}]}, "mark": {"type": "text", "text": "Period：2007/07/16 09:00～16:00 JST", "font": "Liberation Sans, Noto Sans CJK JP", "align": "right", "baseline": "alphabetic", "dy": -22, "dx": 1, "fontSize": 13.5, "color": "#111111"},
      "encoding": {
       "x": {"datum": {"year":2007,"month":7,"date":16,"hours":16,"minutes":4,"utc":true}, "type": "temporal", "scale": {"type": "utc", "domain": [{"year":2007,"month":7,"date":16,"hours":8,"minutes":54,"utc":true},{"year":2007,"month":7,"date":16,"hours":16,"minutes":4,"utc":true}]}},
       "y": {"datum": 0.153, "type": "quantitative", "scale": {"domain": [-0.168, 0.153], "nice": false, "zero": false}}
      }}
    ]
   },
   {
    "width": 274, "height": 90,
    "layer": [
     {"data": {"values": [{}]}, "mark": {"type": "rule", "color": "#9a9a9a", "strokeDash": [6, 4], "strokeWidth": 1.3},
      "encoding": {"y": {"datum": 0, "type": "quantitative", "scale": {"domain": [-0.152, 0.165], "nice": false, "zero": false}}}},
     {"data": {"name": "hr"}, "mark": {"type": "area", "color": "#0a4f9c", "opacity": 1, "clip": true},
      "encoding": {
       "x": {"field": "t", "type": "temporal", "scale": {"type": "utc", "domain": [{"year":2007,"month":7,"date":16,"hours":8,"minutes":54,"utc":true},{"year":2007,"month":7,"date":16,"hours":16,"minutes":4,"utc":true}]},
             "axis": {"title": null, "labels": false, "grid": true, "gridColor": "#c8c8c8", "gridDash": [1, 2], "tickCount": 50, "values": [{"year":2007,"month":7,"date":16,"hours":9,"utc":true},{"year":2007,"month":7,"date":16,"hours":10,"utc":true},{"year":2007,"month":7,"date":16,"hours":11,"utc":true},{"year":2007,"month":7,"date":16,"hours":12,"utc":true},{"year":2007,"month":7,"date":16,"hours":13,"utc":true},{"year":2007,"month":7,"date":16,"hours":14,"utc":true},{"year":2007,"month":7,"date":16,"hours":15,"utc":true},{"year":2007,"month":7,"date":16,"hours":16,"utc":true}]}},
       "y": {"field": "snlo", "type": "quantitative", "scale": {"domain": [-0.152, 0.165], "nice": false, "zero": false},
             "axis": {"title": "(m)", "tickCount": 50, "values": [-0.15,-0.1,-0.05,0,0.05,0.1,0.15], "labelExpr": "replace(format(datum.value, '.2f'), '\u2212', '-')", "grid": true, "gridColor": "#c8c8c8", "gridDash": [1, 2], "labelFontSize": 8, "labelOverlap": false, "titleAngle": 0, "titleAlign": "right", "titleBaseline": "alphabetic", "titleFontSize": 7, "titleFontWeight": "normal", "titleColor": "#333333", "titleX": -8, "titleY": -5}},
       "y2": {"field": "snhi"}
      }},
     {"data": {"name": "sp"}, "transform": [{"filter": "datum.c == 'sn'"}], "mark": {"type": "circle", "size": 6, "color": "#0a4f9c", "opacity": 1},
      "encoding": {
       "x": {"field": "t", "type": "temporal", "scale": {"type": "utc", "domain": [{"year":2007,"month":7,"date":16,"hours":8,"minutes":54,"utc":true},{"year":2007,"month":7,"date":16,"hours":16,"minutes":4,"utc":true}]}},
       "y": {"field": "v", "type": "quantitative", "scale": {"domain": [-0.152, 0.165], "nice": false, "zero": false}}
      }},
     {"data": {"values": [{}]}, "mark": {"type": "text", "text": "950249 -> 940051 South-North", "align": "left", "baseline": "alphabetic", "dy": -4, "dx": 2, "fontSize": 14, "color": "#111111"},
      "encoding": {
       "x": {"datum": {"year":2007,"month":7,"date":16,"hours":8,"minutes":54,"utc":true}, "type": "temporal", "scale": {"type": "utc", "domain": [{"year":2007,"month":7,"date":16,"hours":8,"minutes":54,"utc":true},{"year":2007,"month":7,"date":16,"hours":16,"minutes":4,"utc":true}]}},
       "y": {"datum": 0.165, "type": "quantitative", "scale": {"domain": [-0.152, 0.165], "nice": false, "zero": false}}
      }}
    ]
   },
   {
    "width": 274, "height": 88,
    "layer": [
     {"data": {"name": "hr"}, "mark": {"type": "area", "color": "#ee2a12", "opacity": 1, "clip": true},
      "encoding": {
       "x": {"field": "t", "type": "temporal", "scale": {"type": "utc", "domain": [{"year":2007,"month":7,"date":16,"hours":8,"minutes":54,"utc":true},{"year":2007,"month":7,"date":16,"hours":16,"minutes":4,"utc":true}]},
             "axis": {"title": null, "grid": true, "gridColor": "#c8c8c8", "gridDash": [1, 2], "tickCount": 50, "labelFontSize": 9, "labelPadding": 5, "labelFlush": false, "labelOverlap": false, "labelExpr": "utcFormat(datum.value, '%-H:%M')", "values": [{"year":2007,"month":7,"date":16,"hours":9,"utc":true},{"year":2007,"month":7,"date":16,"hours":10,"utc":true},{"year":2007,"month":7,"date":16,"hours":11,"utc":true},{"year":2007,"month":7,"date":16,"hours":12,"utc":true},{"year":2007,"month":7,"date":16,"hours":13,"utc":true},{"year":2007,"month":7,"date":16,"hours":14,"utc":true},{"year":2007,"month":7,"date":16,"hours":15,"utc":true},{"year":2007,"month":7,"date":16,"hours":16,"utc":true}]}},
       "y": {"field": "hlo", "type": "quantitative", "scale": {"domain": [-0.148, 0.167], "nice": false, "zero": false},
             "axis": {"title": "(m)", "tickCount": 50, "values": [-0.15,-0.1,-0.05,0,0.05,0.1,0.15], "labelExpr": "replace(format(datum.value, '.2f'), '\u2212', '-')", "grid": true, "gridColor": "#c8c8c8", "gridDash": [1, 2], "labelFontSize": 8, "labelOverlap": false, "titleAngle": 0, "titleAlign": "right", "titleBaseline": "alphabetic", "titleFontSize": 7, "titleFontWeight": "normal", "titleColor": "#333333", "titleX": -8, "titleY": -5}},
       "y2": {"field": "hhi"}
      }},
     {"data": {"name": "sp"}, "transform": [{"filter": "datum.c == 'h'"}], "mark": {"type": "circle", "size": 6, "color": "#ee2a12", "opacity": 1},
      "encoding": {
       "x": {"field": "t", "type": "temporal", "scale": {"type": "utc", "domain": [{"year":2007,"month":7,"date":16,"hours":8,"minutes":54,"utc":true},{"year":2007,"month":7,"date":16,"hours":16,"minutes":4,"utc":true}]}},
       "y": {"field": "v", "type": "quantitative", "scale": {"domain": [-0.148, 0.167], "nice": false, "zero": false}}
      }},
     {"data": {"values": [{}]}, "mark": {"type": "rule", "color": "#7a2d20", "strokeDash": [7, 4], "strokeWidth": 1.3},
      "encoding": {"y": {"datum": 0.01, "type": "quantitative", "scale": {"domain": [-0.148, 0.167], "nice": false, "zero": false}}}},
     {"data": {"values": [{}]}, "mark": {"type": "text", "text": "950249 -> 940051 Height", "align": "left", "baseline": "alphabetic", "dy": -4, "dx": 2, "fontSize": 14, "color": "#111111"},
      "encoding": {
       "x": {"datum": {"year":2007,"month":7,"date":16,"hours":8,"minutes":54,"utc":true}, "type": "temporal", "scale": {"type": "utc", "domain": [{"year":2007,"month":7,"date":16,"hours":8,"minutes":54,"utc":true},{"year":2007,"month":7,"date":16,"hours":16,"minutes":4,"utc":true}]}},
       "y": {"datum": 0.167, "type": "quantitative", "scale": {"domain": [-0.148, 0.167], "nice": false, "zero": false}}
      }}
    ]
   }
  ]
 }
]
}
